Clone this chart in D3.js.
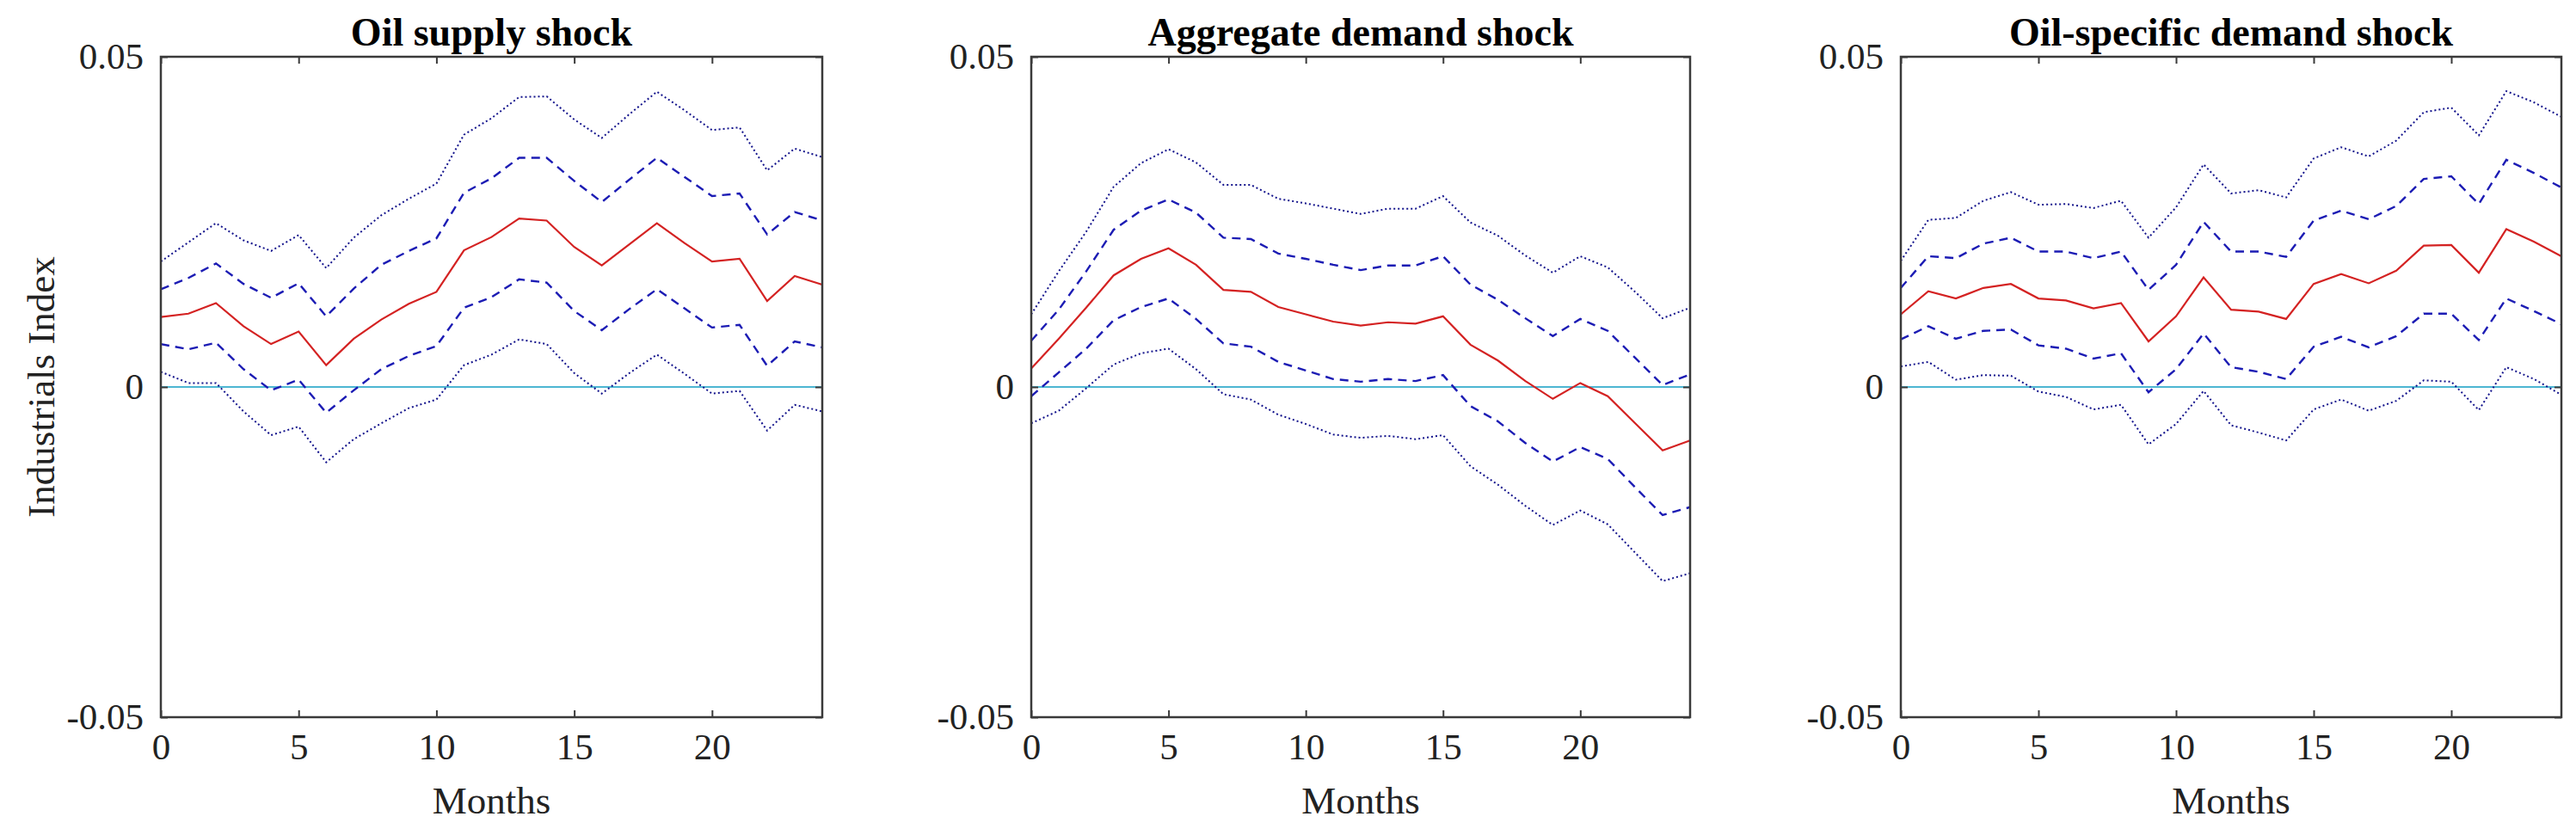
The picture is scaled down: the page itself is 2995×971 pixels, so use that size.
<!DOCTYPE html>
<html>
<head>
<meta charset="utf-8">
<script src="https://cdn.jsdelivr.net/npm/d3@7"></script>
<style>
  body { margin: 0; background: #fff; }
</style>
</head>
<body>
<svg id="chart" width="2995" height="971" font-family="Liberation Serif, Times New Roman, serif"></svg>
<script>
'use strict';

var SERIF = 'Liberation Serif, Times New Roman, serif';

// Horizon (months) and axis ticks
var months = d3.range(0, 25);
var xTicks = [0, 5, 10, 15, 20];
var yTicks = [-0.05, 0, 0.05];
var yTickLabels = ['-0.05', '0', '0.05'];
var titles = ['Oil supply shock', 'Aggregate demand shock', 'Oil-specific demand shock'];

// Oil supply shock
var supplyMean = [0.0106, 0.0111, 0.0127, 0.0092, 0.0065, 0.0084, 0.0033, 0.0073, 0.0102, 0.0126, 0.0144, 0.0207, 0.0227, 0.0255, 0.0252, 0.0212, 0.0184, 0.0216, 0.0248, 0.0218, 0.0190, 0.0194, 0.0130, 0.0168, 0.0155];
var supplyUp1 = [0.0148, 0.0165, 0.0187, 0.0156, 0.0135, 0.0157, 0.0107, 0.0149, 0.0185, 0.0206, 0.0225, 0.0294, 0.0316, 0.0347, 0.0347, 0.0312, 0.0280, 0.0314, 0.0347, 0.0318, 0.0289, 0.0293, 0.0231, 0.0265, 0.0252];
var supplyLo1 = [0.0065, 0.0057, 0.0067, 0.0027, -0.0005, 0.0011, -0.0039, -0.0005, 0.0027, 0.0047, 0.0062, 0.0120, 0.0136, 0.0163, 0.0158, 0.0115, 0.0086, 0.0118, 0.0148, 0.0119, 0.0090, 0.0094, 0.0032, 0.0069, 0.0060];
var supplyUp2 = [0.0190, 0.0219, 0.0248, 0.0222, 0.0206, 0.0230, 0.0180, 0.0226, 0.0260, 0.0285, 0.0308, 0.0382, 0.0407, 0.0439, 0.0440, 0.0405, 0.0377, 0.0413, 0.0447, 0.0419, 0.0389, 0.0393, 0.0328, 0.0361, 0.0348];
var supplyLo2 = [0.0023, 0.0006, 0.0006, -0.0037, -0.0073, -0.0060, -0.0114, -0.0079, -0.0055, -0.0032, -0.0019, 0.0033, 0.0049, 0.0072, 0.0065, 0.0021, -0.0010, 0.0021, 0.0049, 0.0020, -0.0010, -0.0006, -0.0066, -0.0027, -0.0037];

// Aggregate demand shock
var demandMean = [0.0028, 0.0073, 0.0120, 0.0169, 0.0194, 0.0210, 0.0185, 0.0147, 0.0144, 0.0121, 0.0110, 0.0099, 0.0093, 0.0098, 0.0096, 0.0107, 0.0064, 0.0040, 0.0009, -0.0018, 0.0006, -0.0014, -0.0055, -0.0096, -0.0081];
var demandUp1 = [0.0070, 0.0117, 0.0175, 0.0238, 0.0267, 0.0284, 0.0264, 0.0226, 0.0224, 0.0202, 0.0194, 0.0185, 0.0177, 0.0184, 0.0184, 0.0198, 0.0155, 0.0132, 0.0104, 0.0077, 0.0103, 0.0085, 0.0044, 0.0003, 0.0019];
var demandLo1 = [-0.0014, 0.0022, 0.0058, 0.0101, 0.0121, 0.0134, 0.0103, 0.0066, 0.0061, 0.0038, 0.0025, 0.0012, 0.0008, 0.0012, 0.0009, 0.0018, -0.0029, -0.0052, -0.0085, -0.0113, -0.0091, -0.0109, -0.0152, -0.0194, -0.0182];
var demandUp2 = [0.0110, 0.0175, 0.0235, 0.0303, 0.0339, 0.0360, 0.0340, 0.0306, 0.0306, 0.0285, 0.0278, 0.0270, 0.0262, 0.0270, 0.0270, 0.0289, 0.0249, 0.0229, 0.0199, 0.0173, 0.0198, 0.0181, 0.0144, 0.0104, 0.0120];
var demandLo2 = [-0.0055, -0.0036, -0.0002, 0.0034, 0.0051, 0.0058, 0.0027, -0.0011, -0.0019, -0.0042, -0.0056, -0.0072, -0.0077, -0.0074, -0.0079, -0.0073, -0.0120, -0.0148, -0.0180, -0.0209, -0.0187, -0.0208, -0.0251, -0.0294, -0.0282];

// Oil-specific demand shock
var specificMean = [0.0110, 0.0145, 0.0134, 0.0150, 0.0156, 0.0134, 0.0131, 0.0119, 0.0127, 0.0069, 0.0107, 0.0166, 0.0117, 0.0114, 0.0103, 0.0156, 0.0171, 0.0157, 0.0176, 0.0214, 0.0215, 0.0173, 0.0239, 0.0220, 0.0198];
var specificUp1 = [0.0150, 0.0198, 0.0195, 0.0217, 0.0226, 0.0205, 0.0205, 0.0195, 0.0205, 0.0147, 0.0185, 0.0250, 0.0205, 0.0205, 0.0197, 0.0252, 0.0267, 0.0254, 0.0274, 0.0315, 0.0319, 0.0277, 0.0344, 0.0324, 0.0302];
var specificLo1 = [0.0072, 0.0092, 0.0073, 0.0085, 0.0087, 0.0063, 0.0058, 0.0043, 0.0051, -0.0008, 0.0027, 0.0081, 0.0030, 0.0023, 0.0012, 0.0061, 0.0076, 0.0060, 0.0077, 0.0111, 0.0111, 0.0071, 0.0134, 0.0115, 0.0095];
var specificUp2 = [0.0191, 0.0253, 0.0256, 0.0282, 0.0295, 0.0276, 0.0277, 0.0271, 0.0282, 0.0226, 0.0272, 0.0337, 0.0293, 0.0298, 0.0287, 0.0346, 0.0363, 0.0349, 0.0373, 0.0416, 0.0423, 0.0381, 0.0448, 0.0431, 0.0409];
var specificLo2 = [0.0031, 0.0038, 0.0011, 0.0018, 0.0017, -0.0007, -0.0015, -0.0034, -0.0027, -0.0087, -0.0056, -0.0006, -0.0058, -0.0069, -0.0081, -0.0034, -0.0019, -0.0036, -0.0021, 0.0010, 0.0008, -0.0035, 0.0030, 0.0012, -0.0012];

var panels = [
  { title: titles[0], mean: supplyMean, up1: supplyUp1, lo1: supplyLo1, up2: supplyUp2, lo2: supplyLo2, left: 187, right: 956 },
  { title: titles[1], mean: demandMean, up1: demandUp1, lo1: demandLo1, up2: demandUp2, lo2: demandLo2, left: 1199, right: 1965 },
  { title: titles[2], mean: specificMean, up1: specificUp1, lo1: specificLo1, up2: specificUp2, lo2: specificLo2, left: 2210, right: 2978 }
];

var plotTop = 66, plotBottom = 834;
var svg = d3.select('#chart');

panels.forEach(function(p, i) {
  var x = d3.scaleLinear().domain([0, 24]).range([p.left, p.right]);
  var y = d3.scaleLinear().domain([-0.05, 0.05]).range([plotBottom, plotTop]);
  var g = svg.append('g');

  var line = d3.line()
    .x(function(d, k) { return x(months[k]); })
    .y(function(d) { return y(d); });

  // zero line
  g.append('line')
    .attr('x1', x(0)).attr('x2', x(24))
    .attr('y1', y(0)).attr('y2', y(0))
    .attr('stroke', '#4db6d2').attr('stroke-width', 2.2);

  // bands: dotted = 2 s.e., dashed = 1 s.e.
  [p.up2, p.lo2].forEach(function(s) {
    g.append('path').datum(s).attr('d', line)
      .attr('fill', 'none').attr('stroke', '#14148c')
      .attr('stroke-width', 2).attr('stroke-dasharray', '2,3');
  });
  [p.up1, p.lo1].forEach(function(s) {
    g.append('path').datum(s).attr('d', line)
      .attr('fill', 'none').attr('stroke', '#1c1cb4')
      .attr('stroke-width', 2.4).attr('stroke-dasharray', '10,7');
  });
  g.append('path').datum(p.mean).attr('d', line)
    .attr('fill', 'none').attr('stroke', '#d42222').attr('stroke-width', 2.2);

  // frame
  g.append('rect')
    .attr('x', p.left).attr('y', plotTop)
    .attr('width', p.right - p.left).attr('height', plotBottom - plotTop)
    .attr('fill', 'none').attr('stroke', '#3a3a3a').attr('stroke-width', 2.5);

  // inward ticks
  var xb = d3.axisBottom(x).tickValues(xTicks).tickSizeInner(-8).tickSizeOuter(0).tickPadding(18);
  var xt = d3.axisTop(x).tickValues(xTicks).tickSizeInner(-8).tickSizeOuter(0).tickFormat('');
  var yl = d3.axisLeft(y).tickValues(yTicks).tickSizeInner(-8).tickSizeOuter(0).tickPadding(20)
    .tickFormat(function(d, k) { return yTickLabels[k]; });
  var yr = d3.axisRight(y).tickValues(yTicks).tickSizeInner(-8).tickSizeOuter(0).tickFormat('');

  [[xb, 'translate(0,' + plotBottom + ')'], [xt, 'translate(0,' + plotTop + ')'],
   [yl, 'translate(' + p.left + ',0)'], [yr, 'translate(' + p.right + ',0)']].forEach(function(a) {
    var ax = g.append('g').attr('transform', a[1]).call(a[0]);
    ax.attr('font-family', SERIF).attr('font-size', 43);
    ax.select('.domain').remove();
    ax.selectAll('line').attr('stroke', '#3a3a3a').attr('stroke-width', 2);
    ax.selectAll('text').attr('fill', '#222');
  });

  // title
  g.append('text')
    .attr('x', (p.left + p.right) / 2).attr('y', 53)
    .attr('text-anchor', 'middle')
    .attr('font-family', SERIF)
    .attr('font-size', 46).attr('font-weight', 'bold').attr('fill', '#000')
    .text(p.title);

  // x label
  g.append('text')
    .attr('x', (p.left + p.right) / 2).attr('y', 946)
    .attr('text-anchor', 'middle')
    .attr('font-family', SERIF)
    .attr('font-size', 45).attr('fill', '#222')
    .text('Months');

  if (i === 0) {
    g.append('text')
      .attr('transform', 'translate(63,' + ((plotTop + plotBottom) / 2) + ') rotate(-90)')
      .attr('text-anchor', 'middle')
      .attr('font-family', SERIF)
      .attr('font-size', 45).attr('fill', '#222')
      .text('Industrials Index');
  }
});
</script>
</body>
</html>
